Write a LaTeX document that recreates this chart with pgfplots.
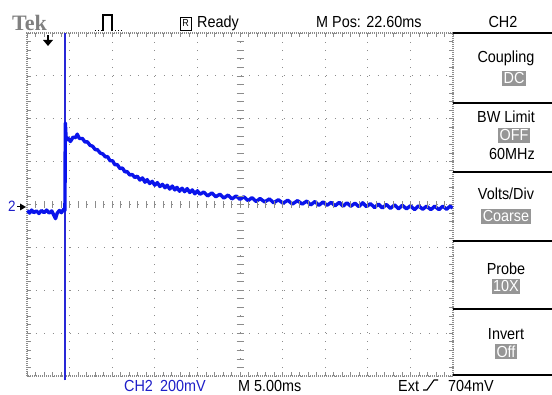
\documentclass[border=0pt]{standalone}
\usepackage{pgfplots}
\pgfplotsset{compat=1.18}
\usepackage{fontspec}
\setmainfont{Liberation Sans}[FakeStretch=0.9]
\newfontfamily\tekfont{Liberation Serif}
\definecolor{trace}{RGB}{10,20,235}
\definecolor{vline}{RGB}{40,40,215}
\definecolor{chblue}{RGB}{30,30,200}
\definecolor{grat}{RGB}{140,140,140}
\definecolor{inv}{RGB}{150,150,150}
\newcommand{\scr}{\fontsize{16}{16}\selectfont}
\begin{document}
\begin{tikzpicture}[x=1pt,y=1pt]
\useasboundingbox (0,0) rectangle (552,394);
\begin{axis}[
    at={(27pt,18pt)}, anchor=south west,
    scale only axis, width=426pt, height=343pt,
    xmin=-5, xmax=5, ymin=-4, ymax=4,
    xtick={-5,...,5}, ytick={-4,...,4},
    minor x tick num=4, minor y tick num=4,
    xticklabels={}, yticklabels={},
    tick align=inside, tick pos=both,
    major tick length=4pt, minor tick length=4pt,
    tick style={grat, line width=0.7pt},
    grid=major,
    major grid style={grat, line width=0.9pt, dash pattern=on 0.9pt off 7.65pt},
    axis line style={grat, line width=1.2pt, dash pattern=on 1pt off 1pt},
    clip=false,
]
% cursor / trigger line
\addplot[draw=vline, line width=1.8pt] coordinates {(-4.10,-4.1) (-4.10,4)};
% CH2 trace (divisions)
\addplot[draw=trace, line width=3.4pt, line join=round] coordinates {
(-4.99,-0.14) (-4.94,-0.20) (-4.89,-0.13) (-4.84,-0.19) (-4.78,-0.15) (-4.72,-0.21)
(-4.66,-0.14) (-4.60,-0.19) (-4.54,-0.13) (-4.48,-0.20) (-4.42,-0.15) (-4.38,-0.23)
(-4.33,-0.33) (-4.29,-0.20) (-4.24,-0.14) (-4.19,-0.19) (-4.14,-0.11) (-4.11,-0.14)
(-4.10,1.90) (-4.08,1.50)
(-4.04,1.55) (-3.98,1.47) (-3.92,1.57) (-3.86,1.56) (-3.82,1.64) (-3.77,1.54)
(-3.70,1.54) (-3.64,1.46) (-3.58,1.46) (-3.52,1.38) (-3.46,1.36) (-3.40,1.28)
(-3.35,1.28) (-3.28,1.20) (-3.22,1.18) (-3.16,1.11) (-3.11,1.12) (-3.05,1.02)
(-2.99,1.02) (-2.94,0.93) (-2.88,0.93) (-2.82,0.84) (-2.76,0.85) (-2.70,0.76)
(-2.65,0.77) (-2.59,0.69) (-2.53,0.70) (-2.47,0.63) (-2.41,0.66) (-2.35,0.57)
(-2.29,0.62) (-2.23,0.52) (-2.18,0.58) (-2.12,0.49) (-2.06,0.54) (-2.00,0.45)
(-1.94,0.51) (-1.88,0.42) (-1.82,0.47) (-1.76,0.39) (-1.71,0.45) (-1.65,0.36)
(-1.59,0.43) (-1.53,0.34) (-1.48,0.40) (-1.42,0.31) (-1.36,0.38) (-1.30,0.30)
(-1.24,0.37) (-1.18,0.28) (-1.12,0.34) (-1.06,0.25) (-1.00,0.32) (-0.94,0.24)
(-0.85,0.29) (-0.76,0.20) (-0.66,0.27) (-0.57,0.18) (-0.47,0.24) (-0.38,0.15)
(-0.28,0.22) (-0.19,0.13) (-0.09,0.20) (0,0.12) (0.09,0.18) (0.19,0.09)
(0.28,0.16) (0.38,0.07) (0.47,0.14) (0.58,0.06) (0.69,0.13) (0.79,0.04)
(0.90,0.11) (1.01,0.03) (1.12,0.10) (1.23,0.01) (1.35,0.09) (1.46,0.01)
(1.57,0.08) (1.66,-0.01) (1.76,0.07) (1.85,-0.02) (1.95,0.06) (2.04,-0.02)
(2.14,0.05) (2.23,-0.03) (2.33,0.05) (2.42,-0.04) (2.51,0.04) (2.60,-0.04)
(2.70,0.03) (2.79,-0.05) (2.88,0.04) (2.97,-0.05) (3.06,0.02) (3.16,-0.07)
(3.25,0.01) (3.34,-0.08) (3.44,0.00) (3.53,-0.09) (3.63,-0.01) (3.72,-0.10)
(3.81,-0.02) (3.91,-0.10) (4.00,-0.03) (4.10,-0.12) (4.19,-0.03) (4.29,-0.11)
(4.38,-0.04) (4.48,-0.12) (4.57,-0.04) (4.67,-0.12) (4.76,-0.04) (4.85,-0.11)
(4.93,-0.04) (4.99,-0.08)
};
\end{axis}
% centre cross of the graticule
\foreach \k in {1,...,39} {\draw[grat, line width=0.7pt] (236.5,{18+\k*8.575}) -- (243.5,{18+\k*8.575});}
\foreach \k in {1,...,49} {\draw[grat, line width=0.7pt] ({27+\k*8.52},186) -- ({27+\k*8.52},193);}
% markers
\node[anchor=base west, text=chblue, inner sep=0pt, font=\fontsize{15}{15}\selectfont] at (8,182) {2};
\draw[black, line width=1pt] (17,187) -- (20,187);
\fill[black] (20,190.5) -- (20,183.5) -- (26,187) -- cycle;
\draw[black, line width=1.2pt] (48,359) -- (48,354);
\fill[black] (43,354) -- (53,354) -- (48,348) -- cycle;
% top bar
\node[anchor=base west, inner sep=0pt, text=gray, font=\tekfont\bfseries\fontsize{22}{22}\selectfont] at (12,363) {Tek};
\draw[black, line width=1pt, dotted] (95,363) -- (103,363);
\draw[black, line width=1.2pt] (103,363) -- (103,379) -- (112,379) -- (112,363);
\draw[black, line width=1pt, dotted] (112,363) -- (123,363);
\draw[black, line width=0.9pt] (180,364) rectangle (191,377);
\node[inner sep=0pt, font=\fontsize{10}{10}\selectfont] at (185.5,370.5) {R};
\node[anchor=base west, inner sep=0pt, font=\scr] at (197,366) {Ready};
\node[anchor=base west, inner sep=0pt, font=\scr] at (316,366) {M Pos: 22.60ms};
\node[anchor=base, inner sep=0pt, font=\scr] at (503,366) {CH2};
% side menu
\foreach \yy in {361,291,222,153,85,19} {\draw[black, line width=1.2pt] (453,\yy) -- (552,\yy);}
\tikzset{lab/.style={anchor=base, inner sep=0pt, font=\scr},
         invl/.style={anchor=base, inner sep=1.5pt, fill=inv, text=white, font=\scr}}
\node[lab] at (506,331) {Coupling};
\node[invl] at (514,310) {DC};
\node[lab] at (506,271) {BW Limit};
\node[invl] at (514,253) {OFF};
\node[lab] at (512,234) {60MHz};
\node[lab] at (506,194) {Volts/Div};
\node[invl] at (506,172) {Coarse};
\node[lab] at (506,119) {Probe};
\node[invl] at (506,102) {10X};
\node[lab] at (506,54) {Invert};
\node[invl] at (506,37) {Off};
% bottom bar
\node[anchor=base west, inner sep=0pt, font=\scr, text=chblue] at (124,3) {CH2};
\node[anchor=base west, inner sep=0pt, font=\scr, text=chblue] at (160,3) {200mV};
\node[anchor=base west, inner sep=0pt, font=\scr] at (238,3) {M 5.00ms};
\node[anchor=base west, inner sep=0pt, font=\scr] at (398,3) {Ext};
\draw[black, line width=1.1pt] (423,4) -- (427,4) -- (434,14) -- (438,14);
\node[anchor=base west, inner sep=0pt, font=\scr] at (448,3) {704mV};
\end{tikzpicture}
\end{document}
